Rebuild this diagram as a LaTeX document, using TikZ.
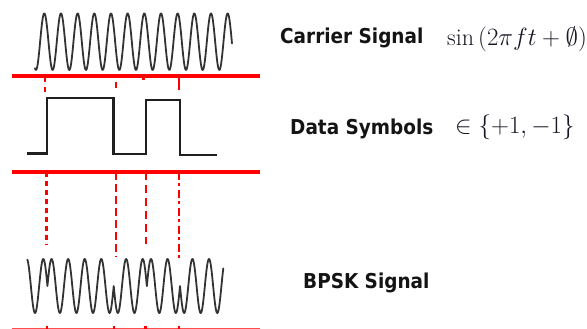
\documentclass[tikz,border=0pt]{standalone}
\usepackage{fontspec}
\newfontfamily\labfont{DejaVu Sans Condensed}
\definecolor{mathcol}{RGB}{22,22,36}
\tikzset{
  redrule/.style={draw=red, line width=3.2pt},
  reddash/.style={draw=red, line width=2.1pt},
  wave/.style={draw=black!80, line width=1.8pt, line join=round, line cap=round},
  datal/.style={draw=black!88, line width=2.4pt, line join=miter},
  lab/.style={font=\labfont\bfseries\fontsize{20.5}{24}\selectfont, inner sep=0pt, anchor=base west, text=black!92},
  mathlab/.style={font=\fontsize{24}{28}\selectfont, inner sep=0pt, anchor=base west, text=mathcol},
}
\begin{document}
\begin{tikzpicture}[x=1pt, y=-1pt]
\useasboundingbox (0,0) rectangle (587,329);

% red rules
\coordinate (r1w) at (12,76);   \coordinate (r1e) at (260,76);
\coordinate (r2w) at (12,172);  \coordinate (r2e) at (260,172);
\coordinate (r3w) at (12,330); \coordinate (r3e) at (260,330);
\draw[redrule] (r1w) -- (r1e);
\draw[redrule] (r2w) -- (r2e);
\draw[redrule, draw=red!70] (r3w) -- (r3e);

% carrier signal
\draw[wave] plot[domain=35:232, samples=400] (\x, {41.7 - 28.3*cos((\x-44.3)/16.67*360)});

% data symbols
\draw[datal] (26.7,153.3) -- (47,153.3) -- (47,98.3) -- (113.5,98.3) -- (113.5,154)
  -- (146,154) -- (146,100) -- (180,100) -- (180,155) -- (216.7,155);

% BPSK signal
\draw[wave] plot[domain=27.3:47.44, samples=60] (\x, {286 - 27*cos((\x-43.3)/16.57*360)})
  -- plot[domain=47.44:113.72, samples=200] (\x, {286 + 27*cos((\x-43.3)/16.57*360)})
  -- plot[domain=113.72:146.86, samples=100] (\x, {286 - 27*cos((\x-43.3)/16.57*360)})
  -- plot[domain=146.86:180.0, samples=100] (\x, {286 + 27*cos((\x-43.3)/16.57*360)})
  -- plot[domain=180.0:223.3, samples=130] (\x, {286 - 27*cos((\x-43.3)/16.57*360)});

% upper dashed stubs
\coordinate (u1a) at (45,76);   \coordinate (u1b) at (45,92);
\coordinate (u2a) at (116,82);  \coordinate (u2b) at (116,88);
\coordinate (u3a) at (143.5,76);\coordinate (u3b) at (143.5,80);
\coordinate (u4a) at (179,76);  \coordinate (u4b) at (179,90);
\draw[reddash, dash pattern=on 6pt off 5pt] (u1a) -- (u1b);
\draw[reddash] (u2a) -- (u2b);
\draw[reddash] (u3a) -- (u3b);
\draw[reddash] (u4a) -- (u4b);

% lower dashed lines
\coordinate (l1a) at (46.5,172);  \coordinate (l1b) at (46.5,245);
\coordinate (l2a) at (116,172);   \coordinate (l2b) at (116,257);
\coordinate (l3a) at (145.7,172); \coordinate (l3b) at (145.7,244);
\coordinate (l4a) at (179,172);   \coordinate (l4b) at (179,260);
\draw[reddash, dash pattern=on 4.5pt off 4.5pt] (l1a) -- (l1b);
\draw[reddash, dash pattern=on 8pt off 4pt] (l2a) -- (l2b);
\draw[reddash, dash pattern=on 8pt off 5pt] (l3a) -- (l3b);
\draw[reddash, dash pattern=on 8pt off 3pt on 3pt off 4pt] (l4a) -- (l4b);

% bottom stubs
\foreach \xx [count=\i] in {47,114,145.5,179}{
  \coordinate (b\i a) at (\xx,326);
  \coordinate (b\i b) at (\xx,330);
  \draw[reddash] (b\i a) -- (b\i b);
}

% labels
\node[lab] (carrier) at (280,44) {Carrier Signal};
\node[mathlab] (carriermath) at (447,46) {$\sin\,(2\pi f t+\emptyset)$};
\node[lab] (data) at (290,135) {Data Symbols};
\node[mathlab] (datamath) at (455,134) {$\in\{+1,-1\}$};
\node[lab] (bpsk) at (303,288) {BPSK Signal};
\end{tikzpicture}
\end{document}
